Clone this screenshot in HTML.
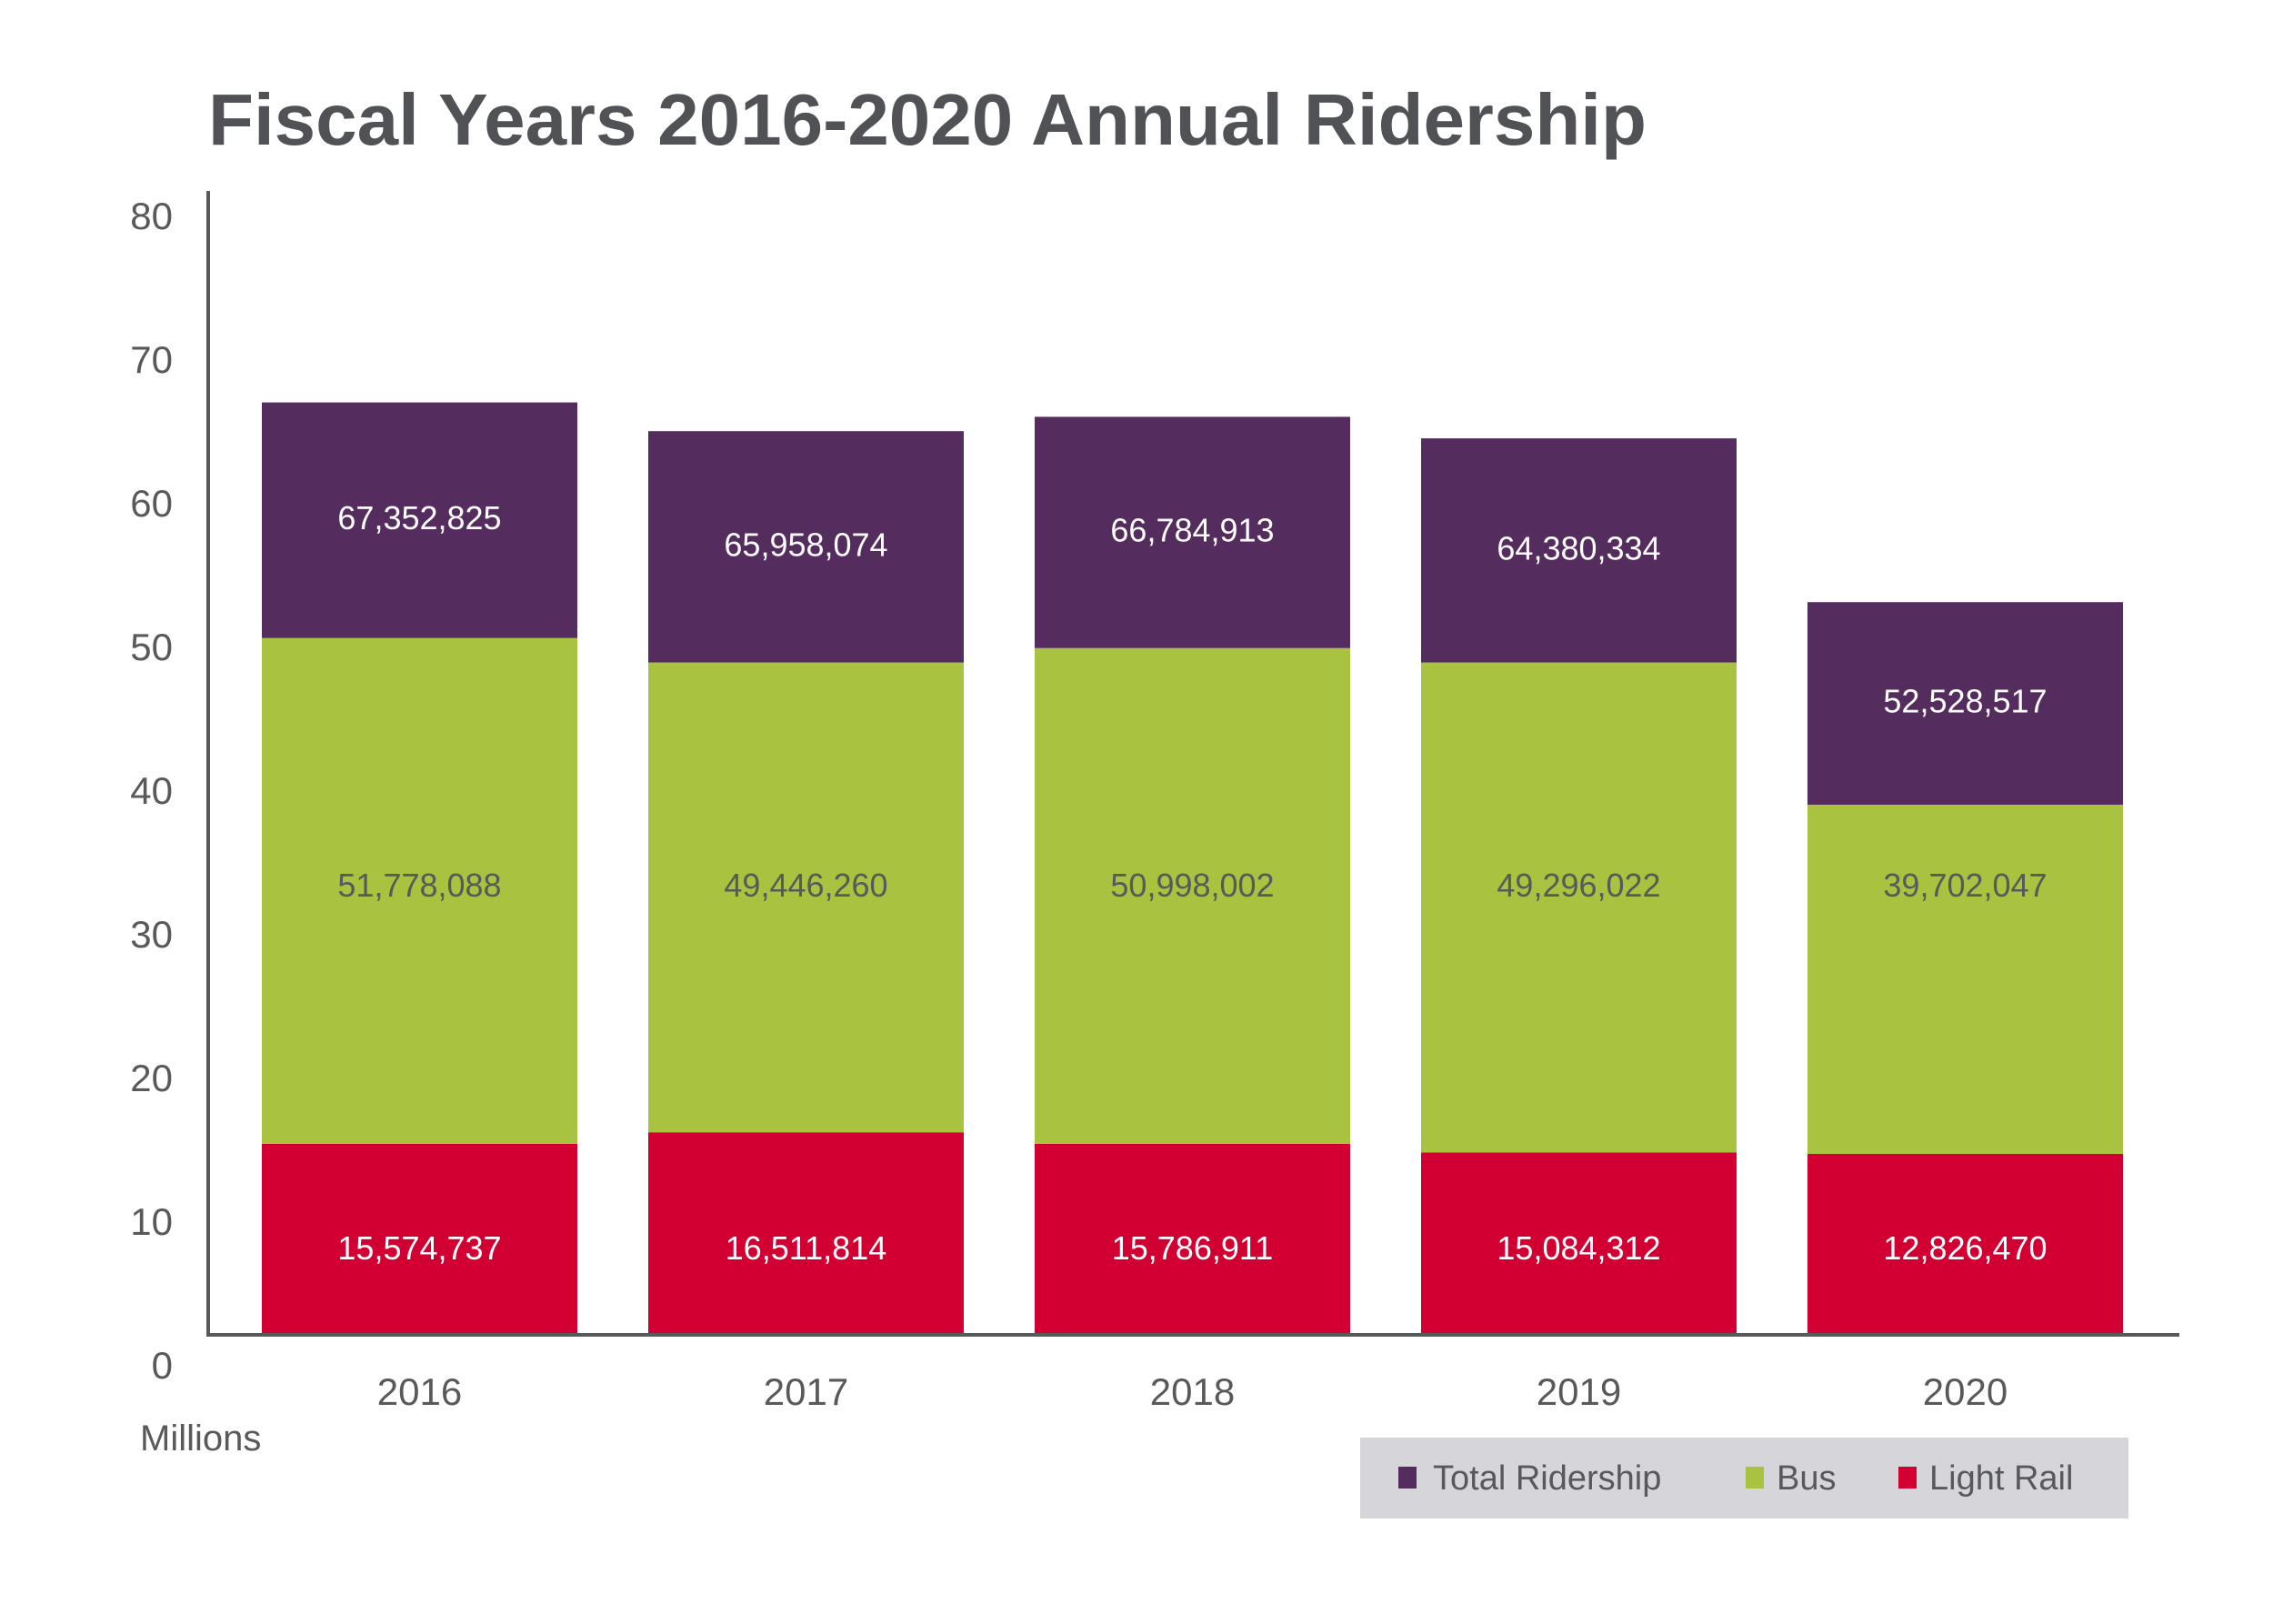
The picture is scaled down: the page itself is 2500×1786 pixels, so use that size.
<!DOCTYPE html>
<html><head><meta charset="utf-8"><style>
html,body{margin:0;padding:0;background:#fff;}
svg{display:block;font-family:"Liberation Sans",sans-serif;}
</style></head><body>
<svg id="chart" width="2500" height="1786" viewBox="0 0 2500 1786" xmlns="http://www.w3.org/2000/svg">
<rect width="2500" height="1786" fill="#fff"/>
<text x="229" y="159" font-size="80" font-weight="bold" fill="#505256" textLength="1582" lengthAdjust="spacingAndGlyphs">Fiscal Years 2016-2020 Annual Ridership</text>
<g id="bars"></g>
<g id="yticks"></g>
<g id="xticks"></g>
<line x1="229" y1="210" x2="229" y2="1470" stroke="#58595b" stroke-width="4"/>
<line x1="227" y1="1468" x2="2397" y2="1468" stroke="#58595b" stroke-width="4"/>
<text x="154" y="1595" font-size="40" fill="#58595b">Millions</text>
<g>
<rect x="1496" y="1581" width="845" height="89" fill="#d5d5da"/>
<rect x="1538" y="1613" width="20" height="24" fill="#552c5e"/>
<text x="1576" y="1638" font-size="38" fill="#58595b">Total Ridership</text>
<rect x="1920" y="1613" width="20" height="24" fill="#a9c23f"/>
<text x="1954" y="1638" font-size="38" fill="#58595b">Bus</text>
<rect x="2088" y="1613" width="20" height="24" fill="#d20032"/>
<text x="2122" y="1638" font-size="38" fill="#58595b">Light Rail</text>
</g>
</svg>
<script>
const years = ["2016","2017","2018","2019","2020"];
// drawn segment tops in axis units (millions)
const totalTop = [64.9, 62.9, 63.9, 62.4, 51.0];
const busTop = [48.5, 46.8, 47.8, 46.8, 36.9];
const lightRailTop = [13.3, 14.1, 13.3, 12.7, 12.6];
const totalLabels = ["67,352,825","65,958,074","66,784,913","64,380,334","52,528,517"];
const busLabels = ["51,778,088","49,446,260","50,998,002","49,296,022","39,702,047"];
const lightRailLabels = ["15,574,737","16,511,814","15,786,911","15,084,312","12,826,470"];
const yTickValues = [0,10,20,30,40,50,60,70,80];

const NS = "http://www.w3.org/2000/svg";
const y0 = 1468, k = 15.8;
function yScale(v){ return y0 - v*k; }
const bandStart = 288, bandStep = 425, barW = 347;
function xScale(i){ return bandStart + i*bandStep; }

function mk(tag, attrs, parent){
  const el = document.createElementNS(NS, tag);
  for (const a in attrs) el.setAttribute(a, attrs[a]);
  parent.appendChild(el);
  return el;
}
const bars = document.getElementById("bars");
const yt = document.getElementById("yticks");
const xt = document.getElementById("xticks");

years.forEach((yr, i) => {
  const x = xScale(i), cx = x + barW/2;
  const r1 = mk("rect", {x:x, y:yScale(lightRailTop[i]), width:barW, height:yScale(0)-yScale(lightRailTop[i]), fill:"#d20032"}, bars);
  
  
  const r2 = mk("rect", {x:x, y:yScale(busTop[i]), width:barW, height:yScale(lightRailTop[i])-yScale(busTop[i]), fill:"#a9c23f"}, bars);
  
  
  const r3 = mk("rect", {x:x, y:yScale(totalTop[i]), width:barW, height:yScale(busTop[i])-yScale(totalTop[i]), fill:"#552c5e"}, bars);
  
  

  const t1 = mk("text", {x:cx, y:(yScale(totalTop[i])+yScale(busTop[i]))/2 + 10, "font-size":36, fill:"#fff", "text-anchor":"middle"}, bars);
  t1.textContent = totalLabels[i];
  
  
  const t2 = mk("text", {x:cx, y:986, "font-size":36, fill:"#58595b", "text-anchor":"middle"}, bars);
  t2.textContent = busLabels[i];
  
  
  const t3 = mk("text", {x:cx, y:1385, "font-size":36, fill:"#fff", "text-anchor":"middle"}, bars);
  t3.textContent = lightRailLabels[i];
  
  

  const xl = mk("text", {x:cx, y:1545, "font-size":42, fill:"#58595b", "text-anchor":"middle"}, xt);
  xl.textContent = yr;
  
  
});

yTickValues.forEach(v => {
  const t = mk("text", {x:190, y:yScale(v)+48, "font-size":42, fill:"#58595b", "text-anchor":"end"}, yt);
  t.textContent = String(v);
  
  
});
</script>
</body></html>
